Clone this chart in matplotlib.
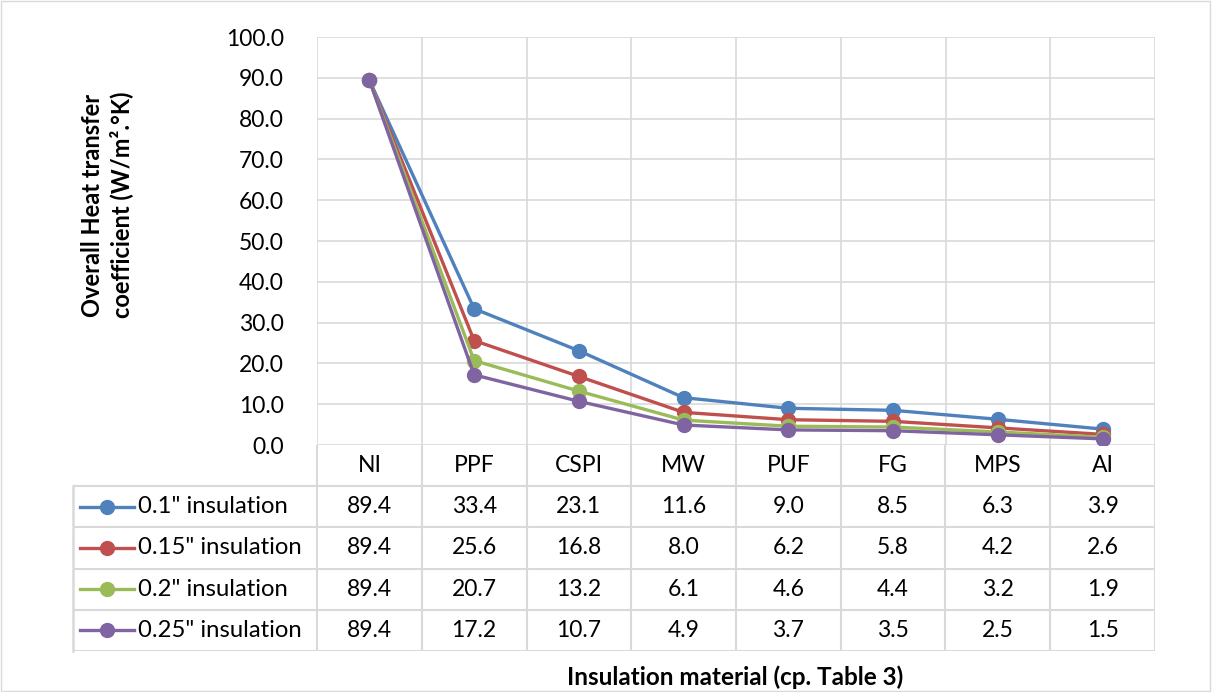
import matplotlib.pyplot as plt
import matplotlib.patches as mpatches

plt.rcParams['font.family'] = ['Lato', 'DejaVu Sans']

# data
materials = ['NI', 'PPF', 'CSPI', 'MW', 'PUF', 'FG', 'MPS', 'AI']
series_names = ['0.1" insulation', '0.15" insulation', '0.2" insulation', '0.25" insulation']
u_01 = [89.4, 33.4, 23.1, 11.6, 9.0, 8.5, 6.3, 3.9]
u_015 = [89.4, 25.6, 16.8, 8.0, 6.2, 5.8, 4.2, 2.6]
u_02 = [89.4, 20.7, 13.2, 6.1, 4.6, 4.4, 3.2, 1.9]
u_025 = [89.4, 17.2, 10.7, 4.9, 3.7, 3.5, 2.5, 1.5]
colors = ['#4F81BD', '#C0504D', '#9BBB59', '#8064A2']
y_ticks = [0, 10, 20, 30, 40, 50, 60, 70, 80, 90, 100]

series = [u_01, u_015, u_02, u_025]
grid_c = '#D9D9D9'
W, H = 1212, 692
fs = 16.5

fig = plt.figure(figsize=(W / 100, H / 100), dpi=100)

# main plot area
x0, x1, ytop, ybot = 317, 1155, 37, 445
ax = fig.add_axes([x0 / W, 1 - ybot / H, (x1 - x0) / W, (ybot - ytop) / H])
n = len(materials)
xs = list(range(n))
for vals, c in zip(series, colors):
    ax.plot(xs, vals, color=c, lw=2.4, marker='o', ms=10, zorder=3)
ax.set_xlim(-0.5, n - 0.5)
ax.set_ylim(0, 100)
ax.set_yticks(y_ticks)
ax.set_yticklabels([f'{v:.1f}' for v in y_ticks], fontsize=fs)
ax.set_xticks([])
for v in y_ticks:
    ax.axhline(v, color=grid_c, lw=1.2, zorder=1)
for i in range(n + 1):
    ax.axvline(i - 0.5, color=grid_c, lw=1.2, zorder=1)
for s in ax.spines.values():
    s.set_visible(False)
ax.tick_params(axis='y', length=0, pad=24)

fig.text(107 / W, 1 - 205 / H, 'Overall Heat transfer\ncoefficient (W/m².°K)',
         rotation=90, ha='center', va='center', fontsize=17, fontweight='bold',
         linespacing=1.3)

# data table below
tx0, tybot = 73, 651
cat_w = (x1 - x0) / n
tax = fig.add_axes([tx0 / W, 1 - tybot / H, (x1 - tx0) / W, (tybot - ybot) / H])
left = -0.5 - (x0 - tx0) / cat_w
tax.set_xlim(left, n - 0.5)
tax.set_ylim(5, 0)
tax.axis('off')
for i in range(n + 1):
    tax.plot([i - 0.5, i - 0.5], [0, 5], color=grid_c, lw=1.5)
tax.plot([left, left], [1, 5], color=grid_c, lw=1.8, clip_on=False)
for r in range(1, 6):
    tax.plot([left, n - 0.5], [r, r], color=grid_c, lw=1.5)
for i, m in enumerate(materials):
    tax.text(i, 0.5, m, ha='center', va='center', fontsize=fs)
for r, (name, vals, c) in enumerate(zip(series_names, series, colors)):
    yr = r + 1.5
    tax.plot([left + 0.07, left + 0.58], [yr, yr], color=c, lw=2.4)
    tax.plot([left + 0.325], [yr], color=c, marker='o', ms=10)
    tax.text(left + 0.62, yr, name, ha='left', va='center', fontsize=17.2)
    for i, v in enumerate(vals):
        tax.text(i, yr, f'{v:.1f}', ha='center', va='center', fontsize=fs)

fig.text(735 / W, 1 - 677 / H, 'Insulation material (cp. Table 3)', ha='center',
         va='center', fontsize=17.5, fontweight='bold')

# outer chart frame
fig.patches.append(mpatches.Rectangle((0.001, 0.001), 0.997, 0.997, transform=fig.transFigure,
                                      fill=False, edgecolor='#D9D9D9', lw=1))

fig.savefig('out.png', dpi=100, facecolor='white')
